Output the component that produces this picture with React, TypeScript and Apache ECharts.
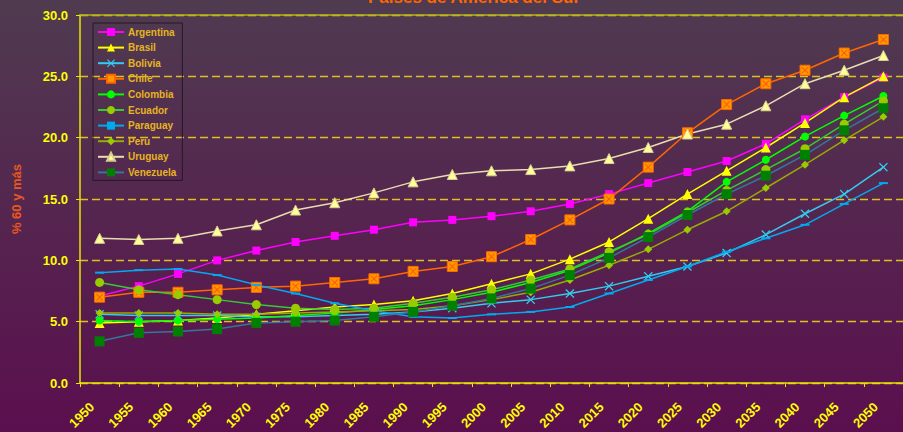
import React, { useEffect, useRef } from "react";
import * as echarts from "echarts";

const years = ["1950","1955","1960","1965","1970","1975","1980","1985","1990","1995","2000","2005","2010","2015","2020","2025","2030","2035","2040","2045","2050"];
const yTicks = [0, 5, 10, 15, 20, 25, 30];
const countries = ["Argentina", "Brasil", "Bolivia", "Chile", "Colombia", "Ecuador", "Paraguay", "Peru", "Uruguay", "Venezuela"];

const argentina = [7.1, 7.9, 8.9, 10.0, 10.8, 11.5, 12.0, 12.5, 13.1, 13.3, 13.6, 14.0, 14.6, 15.4, 16.3, 17.2, 18.1, 19.5, 21.5, 23.3, 24.9];
const brasil = [4.9, 5.0, 5.1, 5.3, 5.6, 5.9, 6.2, 6.4, 6.7, 7.3, 8.1, 8.9, 10.1, 11.5, 13.4, 15.4, 17.3, 19.2, 21.2, 23.3, 25.0];
const bolivia = [5.6, 5.5, 5.5, 5.5, 5.4, 5.4, 5.5, 5.6, 5.8, 6.1, 6.5, 6.8, 7.3, 7.9, 8.7, 9.5, 10.6, 12.1, 13.8, 15.4, 17.6];
const chile = [7.0, 7.4, 7.4, 7.6, 7.8, 7.9, 8.2, 8.5, 9.1, 9.5, 10.3, 11.7, 13.3, 15.0, 17.6, 20.4, 22.7, 24.4, 25.5, 26.9, 28.0];
const colombia = [5.1, 5.0, 5.1, 5.2, 5.3, 5.5, 5.7, 6.0, 6.3, 6.8, 7.4, 8.2, 9.2, 10.6, 12.2, 14.0, 16.4, 18.2, 20.1, 21.8, 23.4];
const ecuador = [8.2, 7.6, 7.2, 6.8, 6.4, 6.1, 6.0, 6.1, 6.5, 7.0, 7.6, 8.4, 9.3, 10.7, 12.1, 13.9, 15.7, 17.4, 19.1, 21.1, 23.0];
const paraguay = [9.0, 9.2, 9.3, 8.8, 8.0, 7.3, 6.5, 5.9, 5.4, 5.3, 5.6, 5.8, 6.2, 7.3, 8.4, 9.5, 10.7, 11.8, 12.9, 14.6, 16.3];
const peru = [5.7, 5.7, 5.7, 5.6, 5.6, 5.7, 5.8, 5.9, 6.0, 6.3, 6.8, 7.4, 8.4, 9.6, 10.9, 12.5, 14.0, 15.9, 17.8, 19.8, 21.7];
const uruguay = [11.8, 11.7, 11.8, 12.4, 12.9, 14.1, 14.7, 15.5, 16.4, 17.0, 17.3, 17.4, 17.7, 18.3, 19.2, 20.3, 21.1, 22.6, 24.4, 25.5, 26.7];
const venezuela = [3.4, 4.1, 4.2, 4.4, 4.9, 5.0, 5.1, 5.4, 5.8, 6.3, 6.9, 7.7, 8.8, 10.2, 11.9, 13.7, 15.4, 16.9, 18.6, 20.6, 22.4];

const xSymbol = "path://M0,1L1,0L5,4L9,0L10,1L6,5L10,9L9,10L5,6L1,10L0,9L4,5Z";
const FONT = "Arial, 'Liberation Sans', sans-serif";

export default function App() {
  const ref = useRef<HTMLDivElement>(null);
  useEffect(() => {
    if (!ref.current) return;
    const chart = echarts.init(ref.current, null, { renderer: "svg" });
    const mk = (name: string, data: number[], line: string, symbol: string, size: any, fill: string, border?: string) => ({
      name,
      type: "line",
      data,
      symbol,
      symbolSize: size,
      lineStyle: { color: line, width: 1.5 },
      itemStyle: { color: fill, borderColor: border || fill, borderWidth: border ? 1 : 0 },
      emphasis: { disabled: true },
    });
    chart.setOption({
      animation: false,
      backgroundColor: {
        type: "linear", x: 0, y: 0, x2: 0, y2: 1,
        colorStops: [
          { offset: 0, color: "#4f3b50" },
          { offset: 1, color: "#5b0f4e" },
        ],
      },
      graphic: [
        {
          type: "text",
          x: 474,
          y: 6,
          style: {
            text: "Países de América del Sur",
            align: "center",
            verticalAlign: "bottom",
            fill: "#ff6600",
            font: "bold 17px " + FONT,
          },
        },
      ],
      legend: {
        data: countries,
        orient: "vertical",
        left: 93,
        top: 23,
        padding: [4, 6, 3, 4],
        itemGap: 5.6,
        itemWidth: 26,
        itemHeight: 10,
        borderColor: "#231a23",
        borderWidth: 1,
        textStyle: {
          color: "#e6b422",
          fontWeight: "bold",
          fontSize: 10,
          fontFamily: FONT,
          padding: [0, 0, 0, -1],
        },
      },
      grid: { left: 80, top: 15, width: 828, height: 369, containLabel: false },
      xAxis: [
        {
          type: "category",
          data: years,
          boundaryGap: true,
          axisLine: { lineStyle: { color: "#e6e600", width: 1.5 } },
          axisTick: { show: true, length: 4, lineStyle: { color: "#e6e600" } },
          axisLabel: {
            interval: 0,
            rotate: 45,
            margin: 14,
            padding: [0, 11, 0, 0],
            color: "#ffff00",
            fontWeight: "bold",
            fontSize: 13,
            fontFamily: FONT,
          },
          splitLine: { show: false },
        },
        {
          type: "category",
          data: years,
          position: "top",
          axisLine: { show: true, lineStyle: { color: "#b4b41e", width: 1.5 } },
          axisTick: { show: false },
          axisLabel: { show: false },
          splitLine: { show: false },
        },
      ],
      yAxis: {
        type: "value",
        min: yTicks[0],
        max: yTicks[yTicks.length - 1],
        interval: 5,
        name: "% 60 y más",
        nameLocation: "middle",
        nameGap: 57,
        nameTextStyle: {
          color: "#e8581c",
          fontWeight: "bold",
          fontSize: 13,
          fontFamily: FONT,
        },
        axisLine: { show: true, lineStyle: { color: "#e6e600", width: 1.5 } },
        axisTick: { show: true, length: 4, lineStyle: { color: "#e6e600" } },
        axisLabel: {
          margin: 12,
          color: "#ffff00",
          fontWeight: "bold",
          fontSize: 13,
          fontFamily: FONT,
          formatter: (v: number) => v.toFixed(1),
        },
        splitLine: { show: true, lineStyle: { color: "#e0c020", type: [8, 4], width: 1.3 } },
      },
      series: [
        mk("Argentina", argentina, "#ff00ff", "rect", 8, "#ff00ff"),
        mk("Brasil", brasil, "#ffff00", "triangle", 10, "#ffff00"),
        mk("Bolivia", bolivia, "#33ccee", xSymbol, 9, "#33ccee"),
        mk("Chile", chile, "#ff6600", "rect", 10, "#ff9900", "#ff6600"),
        {
          name: "Chile ×",
          type: "line",
          data: chile,
          symbol: xSymbol,
          symbolSize: 7,
          lineStyle: { width: 0, opacity: 0 },
          itemStyle: { color: "#ff5a00" },
          emphasis: { disabled: true },
        },
        mk("Colombia", colombia, "#00ff00", "circle", 8, "#00ff00"),
        mk("Ecuador", ecuador, "#33cc33", "circle", 9, "#99cc00"),
        mk("Paraguay", paraguay, "#00aaee", "rect", [9, 2], "#00aaee"),
        mk("Peru", peru, "#99aa00", "diamond", 8, "#99cc00"),
        mk("Uruguay", uruguay, "#e8dcb0", "triangle", 10, "#ffff99", "#d8cc90"),
        mk("Venezuela", venezuela, "#337799", "rect", 10, "#008000"),
      ],
    });
    return () => chart.dispose();
  }, []);
  return <div ref={ref} style={{ position: "fixed", left: 0, top: 0, width: 903, height: 432 }} />;
}
